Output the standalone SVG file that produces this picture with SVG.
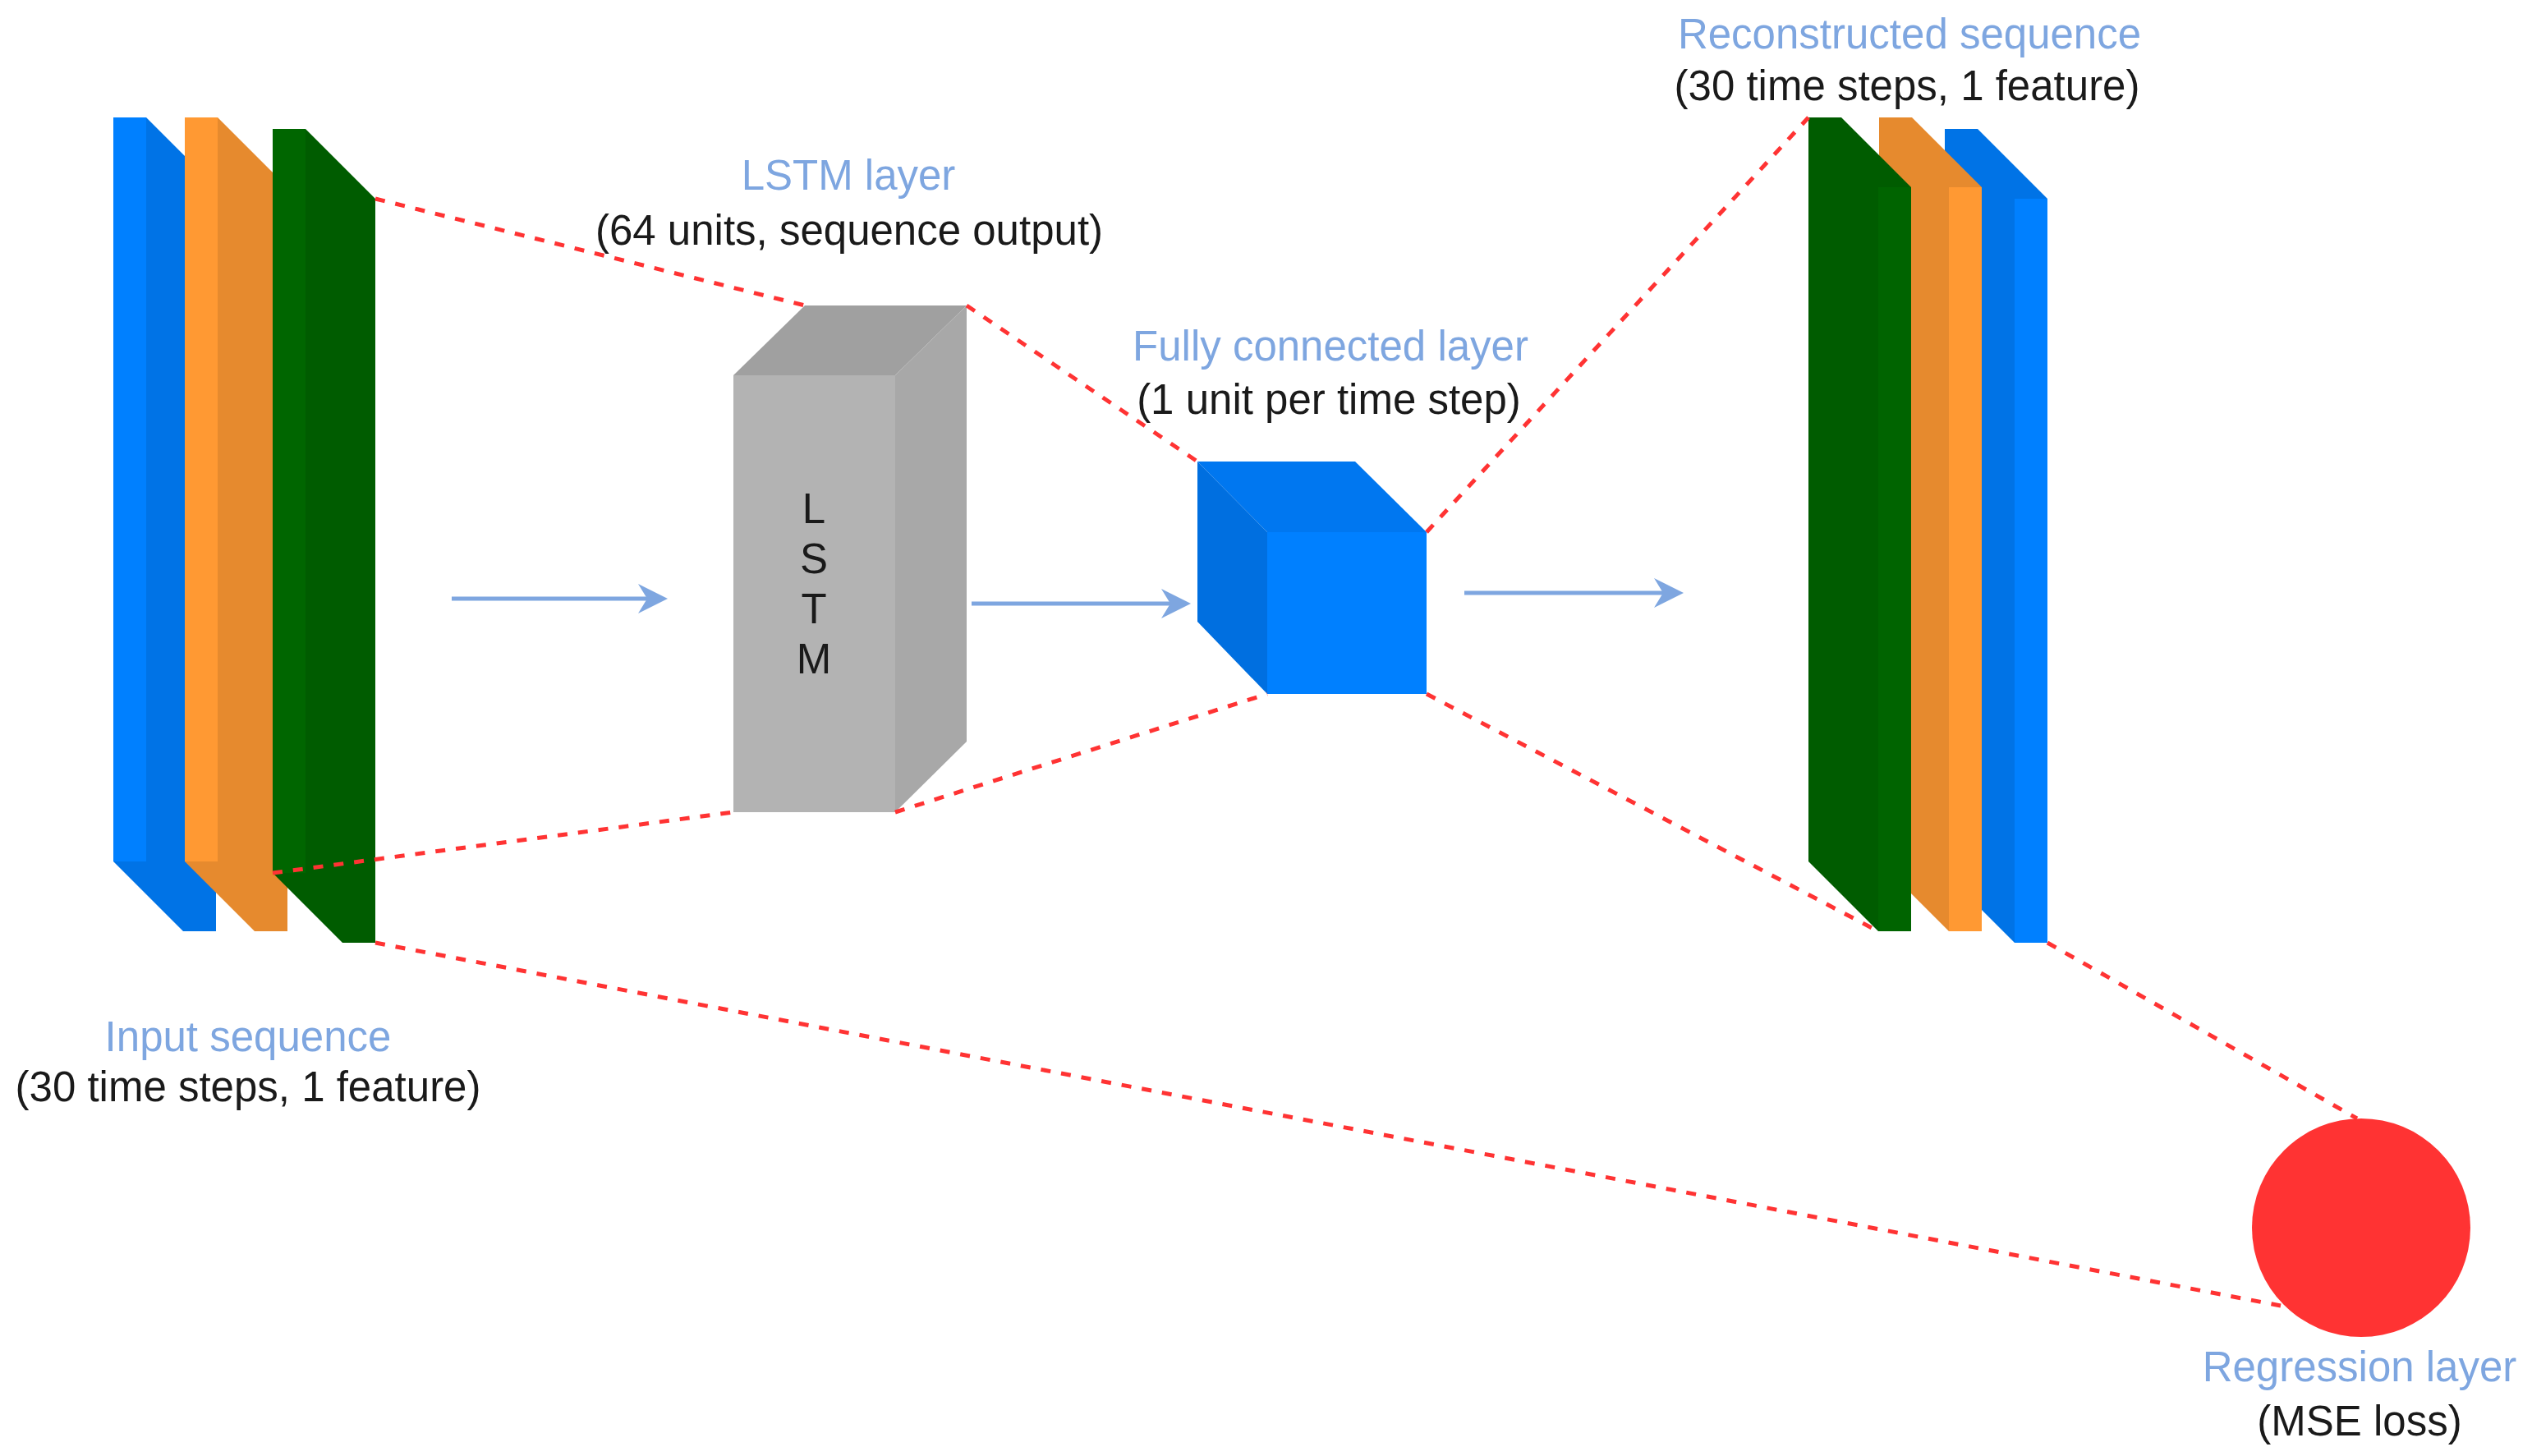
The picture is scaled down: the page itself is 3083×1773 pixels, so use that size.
<svg xmlns="http://www.w3.org/2000/svg" width="3083" height="1773" viewBox="0 0 3083 1773">
<style>
  .lbl { font-family: "Liberation Sans", Arial, sans-serif; font-size: 51px; text-anchor: middle; }
  .blue { fill: #7EA6E0; }
  .dark { fill: #1a1a1a; }
  .dash { stroke: #FF3333; stroke-width: 5; stroke-dasharray: 12 13; fill: none; }
  .flow { stroke: #7EA6E0; stroke-width: 5; fill: none; }
</style>
<defs>
  <marker id="ah" markerUnits="userSpaceOnUse" markerWidth="44" markerHeight="44" viewBox="-40 -22 44 44" refX="-24" refY="0" orient="auto">
    <path d="M0,0 L-36,-18 L-25,0 L-36,18 Z" fill="#7EA6E0"/>
  </marker>
</defs>
<rect width="3083" height="1773" fill="#ffffff"/>

<!-- Input sequence slabs -->
<g id="input-blue">
  <polygon points="138,143 178,143 263,228 263,1134 223,1134 138,1049" fill="#0073E6"/>
  <rect x="138" y="143" width="40" height="906" fill="#0080FF"/>
</g>
<g id="input-orange">
  <polygon points="225,143 265,143 350,228 350,1134 310,1134 225,1049" fill="#E68A2E"/>
  <rect x="225" y="143" width="40" height="906" fill="#FF9933"/>
</g>
<g id="input-green">
  <polygon points="332,157 372,157 457,242 457,1148 417,1148 332,1063" fill="#005C00"/>
  <rect x="332" y="157" width="40" height="906" fill="#006600"/>
</g>
<g id="input-label">
  <text class="lbl blue" x="302" y="1280">Input sequence</text>
  <text class="lbl dark" x="302" y="1341">(30 time steps, 1 feature)</text>
</g>

<!-- LSTM block -->
<g id="lstm">
  <rect x="893" y="457" width="197" height="532" fill="#B3B3B3"/>
  <polygon points="893,457 980,372 1177,372 1090,457" fill="#A0A0A0"/>
  <polygon points="1090,457 1177,372 1177,903 1090,989" fill="#A8A8A8"/>
  <text class="lbl dark" x="991" y="637">L</text>
  <text class="lbl dark" x="991" y="698">S</text>
  <text class="lbl dark" x="991" y="759">T</text>
  <text class="lbl dark" x="991" y="820">M</text>
</g>
<g id="lstm-label">
  <text class="lbl blue" x="1033" y="231">LSTM layer</text>
  <text class="lbl dark" x="1034" y="298">(64 units, sequence output)</text>
</g>

<!-- Fully connected cube -->
<g id="fc">
  <polygon points="1458,562 1650,562 1737,648 1543,648" fill="#0077F0"/>
  <polygon points="1458,562 1543,648 1543,845 1458,757" fill="#006FE0"/>
  <rect x="1543" y="648" width="194" height="197" fill="#0080FF"/>
</g>
<g id="fc-label">
  <text class="lbl blue" x="1620" y="439">Fully connected layer</text>
  <text class="lbl dark" x="1618" y="504">(1 unit per time step)</text>
</g>

<!-- Reconstructed sequence slabs -->
<g id="recon-blue">
  <polygon points="2368,157 2408,157 2493,242 2493,1148 2453,1148 2368,1063" fill="#0073E6"/>
  <rect x="2453" y="242" width="40" height="906" fill="#0080FF"/>
</g>
<g id="recon-orange">
  <polygon points="2288,143 2328,143 2413,228 2413,1134 2373,1134 2288,1049" fill="#E68A2E"/>
  <rect x="2373" y="228" width="40" height="906" fill="#FF9933"/>
</g>
<g id="recon-green">
  <polygon points="2202,143 2242,143 2327,228 2327,1134 2287,1134 2202,1049" fill="#005C00"/>
  <rect x="2287" y="228" width="40" height="906" fill="#006400"/>
</g>
<g id="recon-label">
  <text class="lbl blue" x="2325" y="59">Reconstructed sequence</text>
  <text class="lbl dark" x="2322" y="122">(30 time steps, 1 feature)</text>
</g>

<!-- Regression layer -->
<g id="regression">
  <circle cx="2875" cy="1495" r="133" fill="#FF3333"/>
</g>
<g id="regression-label">
  <text class="lbl blue" x="2873" y="1682">Regression layer</text>
  <text class="lbl dark" x="2873" y="1748">(MSE loss)</text>
</g>

<!-- Connectors -->
<g id="connectors">
  <line class="dash" x1="457" y1="242" x2="980" y2="372"/>
  <line class="dash" x1="1177" y1="372" x2="1458" y2="562"/>
  <line class="dash" x1="332" y1="1063" x2="893" y2="989"/>
  <line class="dash" x1="1090" y1="989" x2="1543" y2="845"/>
  <line class="dash" x1="1737" y1="648" x2="2202" y2="143"/>
  <line class="dash" x1="1737" y1="845" x2="2287" y2="1134"/>
  <line class="dash" x1="457" y1="1148" x2="2777" y2="1590"/>
  <line class="dash" x1="2493" y1="1148" x2="2870" y2="1362"/>
  <line class="flow" x1="550" y1="729" x2="789" y2="729" marker-end="url(#ah)"/>
  <line class="flow" x1="1183" y1="735" x2="1426" y2="735" marker-end="url(#ah)"/>
  <line class="flow" x1="1783" y1="722" x2="2026" y2="722" marker-end="url(#ah)"/>
</g>
</svg>
